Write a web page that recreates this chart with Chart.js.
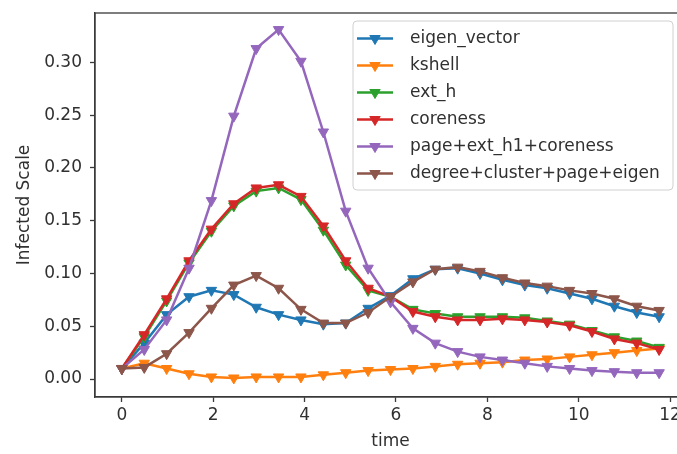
<!DOCTYPE html>
<html><head><meta charset="utf-8">
<script src="https://cdn.jsdelivr.net/npm/chart.js@4/dist/chart.umd.min.js"></script>
<style>
html,body{margin:0;padding:0;background:#fff;overflow:hidden;width:677px;height:454px}
#wrap{position:relative;width:700px;height:454px}
</style>
</head><body>
<div id="wrap"><canvas id="c" width="700" height="454"></canvas></div>
<script>
const time = [0, 0.49, 0.98, 1.47, 1.96, 2.45, 2.94, 3.43, 3.92, 4.41, 4.9, 5.39, 5.88, 6.37, 6.86, 7.35, 7.84, 8.33, 8.82, 9.31, 9.8, 10.29, 10.78, 11.27, 11.76];
const seriesNames = ["eigen_vector", "kshell", "ext_h", "coreness", "page+ext_h1+coreness", "degree+cluster+page+eigen"];
const eigenVector = [0.010,0.034,0.061,0.078,0.084,0.080,0.068,0.061,0.056,0.052,0.053,0.067,0.079,0.095,0.104,0.105,0.100,0.094,0.089,0.086,0.081,0.076,0.069,0.063,0.059];
const kshell = [0.010,0.015,0.010,0.005,0.002,0.001,0.002,0.002,0.002,0.004,0.006,0.008,0.009,0.010,0.012,0.014,0.015,0.016,0.018,0.019,0.021,0.023,0.025,0.027,0.029];
const extH = [0.010,0.040,0.074,0.110,0.140,0.164,0.178,0.181,0.170,0.141,0.108,0.084,0.078,0.066,0.062,0.059,0.059,0.059,0.058,0.055,0.052,0.046,0.040,0.036,0.030];
const coreness = [0.010,0.042,0.076,0.112,0.142,0.166,0.181,0.184,0.173,0.145,0.112,0.086,0.078,0.064,0.059,0.056,0.056,0.057,0.056,0.054,0.051,0.045,0.038,0.034,0.028];
const pageExtCore = [0.010,0.028,0.056,0.105,0.169,0.249,0.313,0.331,0.301,0.234,0.159,0.105,0.073,0.048,0.034,0.026,0.021,0.018,0.015,0.012,0.010,0.008,0.007,0.006,0.006];
const degClusterPageEigen = [0.010,0.011,0.024,0.044,0.067,0.089,0.098,0.086,0.066,0.053,0.053,0.063,0.078,0.092,0.104,0.106,0.102,0.096,0.091,0.088,0.084,0.081,0.076,0.069,0.065];
const xTicks = [0, 2, 4, 6, 8, 10, 12];
const yTicks = [0.00, 0.05, 0.10, 0.15, 0.20, 0.25, 0.30];
const xTitle = "time";
const yTitle = "Infected Scale";

const colors = ["#1f77b4", "#ff7f0e", "#2ca02c", "#d62728", "#9467bd", "#8c564b"];
const allSeries = [eigenVector, kshell, extH, coreness, pageExtCore, degClusterPageEigen];
const FONT = "'DejaVu Sans', sans-serif";
const TXT = "#303030";
const AX = "#3a3a3a";

const datasets = allSeries.map((vals, i) => ({
  label: seriesNames[i],
  data: vals.map((v, k) => ({x: time[k], y: v})),
  borderColor: colors[i],
  backgroundColor: colors[i],
  borderWidth: 2.5,
  pointStyle: 'triangle',
  rotation: 180,
  pointRadius: 6,
  pointBorderWidth: 1,
  tension: 0,
  order: allSeries.length - 1 - i
}));

function tri(ctx, x, y, r, color) {
  ctx.save();
  ctx.fillStyle = color; ctx.strokeStyle = color; ctx.lineWidth = 1;
  ctx.beginPath();
  for (let k = 0; k < 3; k++) {
    const a = Math.PI + k * 2 * Math.PI / 3;
    const px = x + Math.sin(a) * r, py = y - Math.cos(a) * r;
    if (k === 0) ctx.moveTo(px, py); else ctx.lineTo(px, py);
  }
  ctx.closePath(); ctx.fill(); ctx.stroke();
  ctx.restore();
}

const framePlugin = {
  id: 'frame',
  afterDraw(chart) {
    const {ctx, chartArea: a} = chart;
    ctx.save();
    ctx.strokeStyle = AX; ctx.lineWidth = 1.3;
    ctx.strokeRect(a.left, a.top, a.right - a.left, a.bottom - a.top);
    // legend
    const lx = 353, ly = 21, lw = 320, lh = 169, rr = 4;
    ctx.beginPath();
    ctx.moveTo(lx + rr, ly); ctx.lineTo(lx + lw - rr, ly); ctx.quadraticCurveTo(lx + lw, ly, lx + lw, ly + rr);
    ctx.lineTo(lx + lw, ly + lh - rr); ctx.quadraticCurveTo(lx + lw, ly + lh, lx + lw - rr, ly + lh);
    ctx.lineTo(lx + rr, ly + lh); ctx.quadraticCurveTo(lx, ly + lh, lx, ly + lh - rr);
    ctx.lineTo(lx, ly + rr); ctx.quadraticCurveTo(lx, ly, lx + rr, ly);
    ctx.closePath();
    ctx.fillStyle = "rgba(255,255,255,0.85)"; ctx.fill();
    ctx.strokeStyle = "#d0d0d0"; ctx.lineWidth = 1; ctx.stroke();
    ctx.font = "17px " + FONT;
    ctx.textBaseline = "middle"; ctx.textAlign = "left";
    chart.data.datasets.forEach((ds, i) => {
      const y = 38.5 + i * 27;
      ctx.strokeStyle = ds.borderColor; ctx.lineWidth = 2.5;
      ctx.beginPath(); ctx.moveTo(357, y); ctx.lineTo(393, y); ctx.stroke();
      tri(ctx, 375, y, 6, ds.borderColor);
      ctx.fillStyle = TXT;
      ctx.fillText(ds.label, 410, y);
    });
    ctx.restore();
  }
};

new Chart(document.getElementById('c'), {
  type: 'line',
  data: {datasets},
  plugins: [framePlugin],
  options: {
    responsive: false,
    animation: false,
    layout: {padding: {top: 13, right: 14, left: 0, bottom: 0}},
    plugins: {legend: {display: false}, tooltip: {enabled: false}},
    scales: {
      x: {
        type: 'linear', min: -0.588, max: 12.348,
        afterBuildTicks: s => { s.ticks = xTicks.map(v => ({value: v})); },
        afterFit: s => { s.height = 57; s.paddingLeft = 0; s.paddingRight = 0; },
        grid: {drawOnChartArea: false, drawTicks: true, tickLength: 5, color: AX, tickWidth: 1.3},
        border: {display: true, color: AX, width: 1.3},
        ticks: {color: TXT, font: {family: FONT, size: 17}, padding: 3, maxRotation: 0, callback: v => String(v)},
        title: {display: true, text: xTitle, color: TXT, font: {family: FONT, size: 17}, padding: {top: 0, bottom: 2}}
      },
      y: {
        type: 'linear', min: -0.017, max: 0.3467,
        afterBuildTicks: s => { s.ticks = yTicks.map(v => ({value: v})); },
        afterFit: s => { s.width = 95; s.paddingTop = 0; s.paddingBottom = 0; },
        grid: {drawOnChartArea: false, drawTicks: true, tickLength: 5, color: AX, tickWidth: 1.3},
        border: {display: true, color: AX, width: 1.3},
        ticks: {color: TXT, font: {family: FONT, size: 17}, padding: 8, callback: v => Number(v).toFixed(2)},
        title: {display: true, text: yTitle, color: TXT, font: {family: FONT, size: 17}, padding: {top: 14, bottom: 0}}
      }
    }
  }
});
</script>
</body></html>
